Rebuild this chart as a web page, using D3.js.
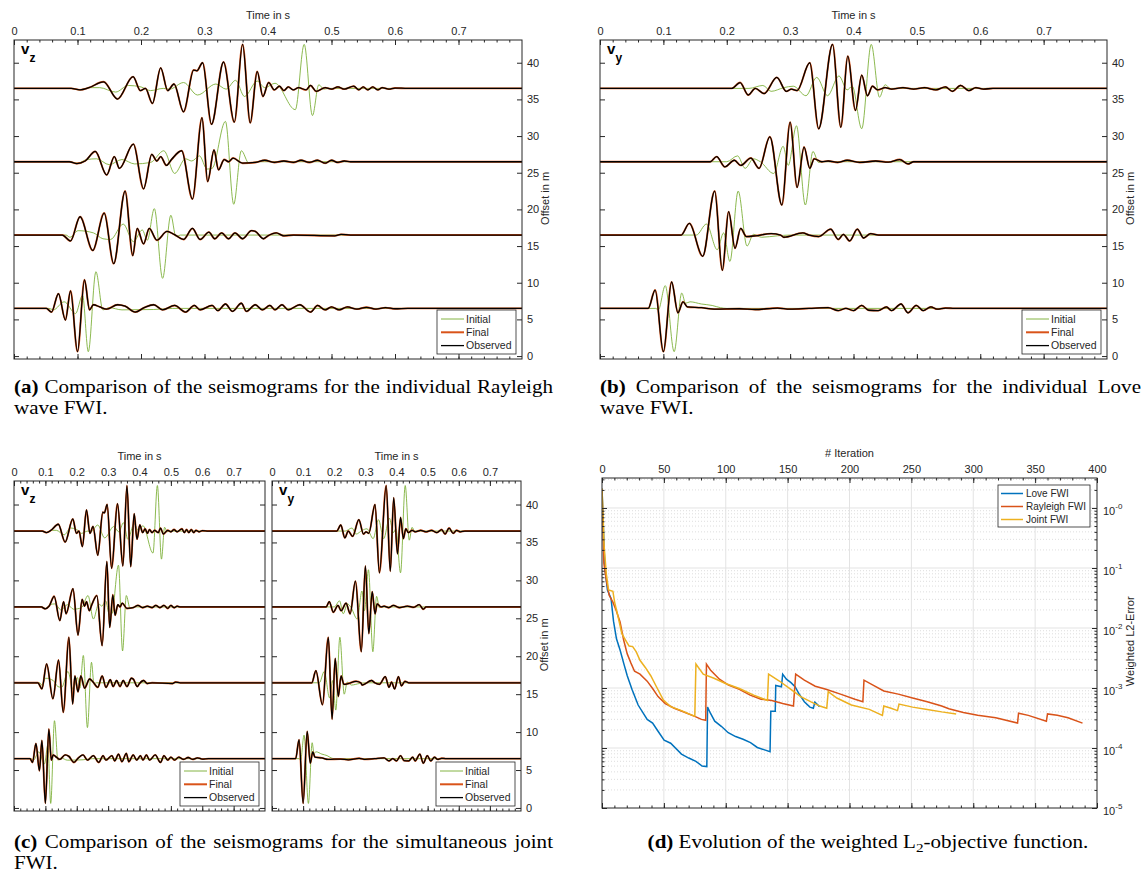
<!DOCTYPE html>
<html>
<head>
<meta charset="utf-8">
<script src="https://cdn.jsdelivr.net/npm/d3@7"></script>
<style>
body { margin: 0; background: #fff; }
svg text { font-family: "Liberation Sans", Arial, sans-serif; font-size: 11px; fill: #262626; }
svg text.cap { font-family: "Liberation Serif", "Times New Roman", serif; font-size: 18px; fill: #000; }
</style>
</head>
<body>
<svg id="fig" width="1147" height="878"></svg>
<script>
// ---- seismogram traces, [time in s, offset in m] (peaks/troughs)
const vzObserved = [
  [[0,36.5],[0.09,36.5],[0.104,36.3],[0.118,36.6],[0.141,37.4],[0.163,35.05],[0.1875,38.1],[0.199,36.2],[0.207,36.5],[0.218,34.45],[0.231,39.3],[0.242,36.2],[0.252,37.1],[0.267,33.3],[0.283,39.0],[0.288,38.9],[0.297,40.0],[0.311,31.6],[0.33,40.1],[0.347,31.9],[0.36,42.5],[0.372,31.8],[0.383,38.8],[0.392,35.4],[0.401,37.3],[0.41,36.3],[0.418,36.8],[0.425,36.2],[0.432,36.7],[0.44,36.3],[0.448,36.6],[0.46,36.3],[0.467,36.9],[0.476,36.1],[0.49,36.6],[0.5,36.4],[0.51,36.7],[0.52,36.4],[0.535,36.8],[0.543,36.3],[0.55,36.7],[0.557,36.3],[0.565,36.7],[0.573,36.3],[0.58,36.6],[0.59,36.4],[0.6,36.55],[0.62,36.5],[0.8,36.5]],
  [[0,26.5],[0.087,26.5],[0.099,26.25],[0.112,26.6],[0.128,27.9],[0.146,24.7],[0.158,27.2],[0.166,25.6],[0.188,28.9],[0.204,22.8],[0.217,27.5],[0.225,26.6],[0.231,27.2],[0.24,26.0],[0.248,26.8],[0.264,28.0],[0.281,21.4],[0.296,32.5],[0.305,23.8],[0.315,28.1],[0.322,25.4],[0.331,26.8],[0.338,26.5],[0.345,27.0],[0.36,26.3],[0.38,26.4],[0.395,26.7],[0.41,26.4],[0.425,26.6],[0.44,26.4],[0.452,26.7],[0.465,26.4],[0.478,26.7],[0.49,26.3],[0.5,26.7],[0.51,26.4],[0.52,26.6],[0.53,26.5],[0.8,26.5]],
  [[0,16.5],[0.076,16.5],[0.089,15.7],[0.104,19.0],[0.124,14.4],[0.142,19.5],[0.157,12.6],[0.175,22.5],[0.187,13.7],[0.194,17.4],[0.204,15.3],[0.213,17.4],[0.225,15.8],[0.241,17.0],[0.252,16.6],[0.267,15.9],[0.281,17.4],[0.293,15.9],[0.307,16.9],[0.316,16.0],[0.327,16.8],[0.338,16.0],[0.348,16.8],[0.36,16.0],[0.374,17.1],[0.38,17.0],[0.393,16.0],[0.4,16.4],[0.413,16.8],[0.425,16.4],[0.44,16.5],[0.505,16.4],[0.515,16.6],[0.53,16.5],[0.8,16.5]],
  [[0,6.5],[0.051,6.5],[0.059,6.0],[0.07,8.5],[0.081,4.9],[0.089,8.9],[0.1,0.6],[0.111,10.4],[0.119,6.3],[0.125,7.0],[0.135,6.7],[0.146,6.4],[0.163,7.0],[0.175,6.8],[0.191,6.0],[0.205,6.6],[0.22,7.0],[0.234,6.3],[0.253,6.9],[0.27,6.0],[0.284,6.9],[0.293,6.3],[0.312,6.9],[0.321,6.2],[0.333,7.1],[0.344,6.1],[0.358,7.2],[0.366,6.1],[0.38,7.0],[0.391,6.3],[0.403,6.9],[0.411,6.3],[0.422,7.0],[0.432,6.3],[0.45,7.0],[0.467,6.0],[0.478,6.9],[0.49,6.3],[0.5,6.7],[0.512,6.3],[0.525,6.7],[0.54,6.4],[0.555,6.65],[0.57,6.4],[0.585,6.6],[0.6,6.45],[0.62,6.5],[0.8,6.5]]
];
const vzInitial = [
  [[0,36.5],[0.09,36.5],[0.102,36.3],[0.12,36.6],[0.135,36.6],[0.16,36.0],[0.18,36.9],[0.2,36.7],[0.215,36.2],[0.235,36.5],[0.245,36.4],[0.267,37.3],[0.289,35.6],[0.318,37.1],[0.334,36.4],[0.349,37.6],[0.363,35.4],[0.383,37.5],[0.395,36.6],[0.411,37.2],[0.443,33.6],[0.457,42.5],[0.47,32.8],[0.48,37.0],[0.488,36.4],[0.495,36.5],[0.8,36.5]],
  [[0,26.5],[0.087,26.5],[0.1,26.3],[0.115,26.8],[0.13,26.9],[0.15,26.1],[0.17,26.8],[0.19,26.2],[0.215,26.4],[0.236,28.0],[0.253,24.9],[0.27,26.9],[0.28,26.6],[0.292,27.3],[0.304,25.5],[0.312,25.6],[0.333,32.0],[0.346,20.7],[0.358,28.0],[0.37,26.3],[0.383,26.5],[0.8,26.5]],
  [[0,16.5],[0.082,16.5],[0.088,16.2],[0.101,17.1],[0.125,16.8],[0.14,16.0],[0.152,15.9],[0.172,18.0],[0.188,15.6],[0.202,17.2],[0.21,15.8],[0.221,20.1],[0.234,10.6],[0.247,19.2],[0.255,16.3],[0.262,16.5],[0.8,16.5]],
  [[0,6.5],[0.055,6.5],[0.062,6.3],[0.079,7.4],[0.097,5.8],[0.108,8.3],[0.117,0.6],[0.129,11.5],[0.14,6.3],[0.15,6.6],[0.17,6.3],[0.22,6.35],[0.25,6.5],[0.8,6.5]]
];
const vyObserved = [
  [[0,36.5],[0.208,36.5],[0.221,37.3],[0.234,35.6],[0.245,36.5],[0.259,35.8],[0.279,38.0],[0.294,36.1],[0.302,36.4],[0.311,36.2],[0.331,40.0],[0.345,31.0],[0.367,42.5],[0.38,31.2],[0.391,40.9],[0.403,33.5],[0.413,38.3],[0.422,35.5],[0.43,36.8],[0.438,36.3],[0.45,36.6],[0.46,36.4],[0.478,36.6],[0.495,36.4],[0.512,36.6],[0.53,36.3],[0.545,36.7],[0.556,36.1],[0.569,36.9],[0.582,36.2],[0.593,36.6],[0.605,36.4],[0.62,36.5],[0.8,36.5]],
  [[0,26.5],[0.174,26.5],[0.184,27.2],[0.197,25.8],[0.212,26.7],[0.222,26.0],[0.238,27.0],[0.251,25.6],[0.268,29.9],[0.287,20.6],[0.3,31.9],[0.311,23.0],[0.322,28.5],[0.331,25.6],[0.338,26.9],[0.35,26.5],[0.36,26.6],[0.375,26.4],[0.39,26.7],[0.41,26.4],[0.435,26.6],[0.455,26.45],[0.473,26.8],[0.486,26.2],[0.495,26.5],[0.8,26.5]],
  [[0,16.5],[0.128,16.5],[0.141,18.1],[0.162,13.6],[0.181,22.5],[0.193,11.7],[0.203,19.7],[0.213,14.7],[0.222,17.4],[0.231,16.3],[0.245,16.4],[0.27,16.7],[0.285,16.5],[0.29,16.2],[0.32,16.8],[0.33,16.5],[0.345,16.3],[0.364,17.3],[0.376,15.9],[0.384,16.6],[0.394,15.7],[0.406,17.3],[0.416,16.1],[0.427,16.7],[0.44,16.5],[0.8,16.5]],
  [[0,6.5],[0.076,6.5],[0.087,9.0],[0.1,0.6],[0.113,10.1],[0.123,5.9],[0.131,7.4],[0.138,6.7],[0.16,6.6],[0.18,6.4],[0.22,6.45],[0.245,6.35],[0.28,6.55],[0.3,6.4],[0.33,6.5],[0.36,6.6],[0.376,6.2],[0.388,6.5],[0.4,6.2],[0.413,6.9],[0.424,6.25],[0.439,6.2],[0.452,6.7],[0.46,6.2],[0.475,7.1],[0.486,5.9],[0.499,6.9],[0.51,6.2],[0.522,6.7],[0.532,6.4],[0.545,6.55],[0.56,6.5],[0.8,6.5]]
];
const vyInitial = [
  [[0,36.5],[0.235,36.5],[0.257,36.9],[0.27,36.1],[0.29,36.6],[0.305,36.8],[0.325,35.5],[0.342,38.0],[0.359,35.5],[0.377,38.2],[0.39,36.3],[0.398,36.8],[0.413,31.0],[0.428,42.5],[0.441,35.3],[0.45,37.0],[0.458,36.5],[0.8,36.5]],
  [[0,26.5],[0.2,26.5],[0.217,27.3],[0.229,25.6],[0.242,26.9],[0.253,26.5],[0.274,24.9],[0.289,28.6],[0.297,26.0],[0.31,31.4],[0.324,20.6],[0.336,27.9],[0.345,26.4],[0.352,26.5],[0.8,26.5]],
  [[0,16.5],[0.152,16.5],[0.168,18.0],[0.185,14.5],[0.195,16.8],[0.205,12.9],[0.218,22.5],[0.232,15.0],[0.242,16.6],[0.255,16.2],[0.28,16.4],[0.3,16.5],[0.8,16.5]],
  [[0,6.5],[0.088,6.5],[0.092,6.3],[0.103,9.6],[0.117,0.6],[0.129,8.6],[0.135,7.2],[0.142,7.4],[0.16,7.1],[0.177,6.9],[0.19,6.6],[0.2,6.5],[0.8,6.5]]
];
// the final models fit the observed data (curves coincide in the figure)
const vzFinal = vzObserved;
const vyFinal = vyObserved;
const vzJointFinal = vzObserved;
const vyJointFinal = vyObserved;

const timeTicks = [0, 0.1, 0.2, 0.3, 0.4, 0.5, 0.6, 0.7];
const offsetTicks = [0, 5, 10, 15, 20, 25, 30, 35, 40];
const seismoLegend = ["Initial", "Final", "Observed"];

// ---- misfit evolution, [iteration, weighted L2 error]
const loveFWI = [[0,2.1],[2.3,0.10],[4.4,0.043],[7.3,0.031],[9.3,0.013],[11.7,0.0066],[14.6,0.0043],[17.5,0.0026],[20.4,0.0016],[24.2,0.00095],[29.2,0.00052],[36.5,0.0003],[40.9,0.00026],[45.3,0.00019],[50.2,0.000135],[55.5,0.00012],[64.2,0.000079],[70.1,0.000068],[75.9,0.00006],[80.9,0.00005],[84.7,0.000049],[85.3,0.00048],[87.6,0.00038],[91.1,0.00028],[96.4,0.00023],[102,0.00018],[108,0.000155],[114,0.00014],[120,0.000123],[125.5,0.000102],[131.4,0.000093],[135.8,0.000087],[136.4,0.00041],[140,0.00041],[140.4,0.0011],[145,0.00105],[146,0.0017],[149,0.0014],[152.7,0.00123],[156,0.00105],[159,0.00081],[163.5,0.00059],[168,0.00048],[170.8,0.00046],[172,0.00058],[175.8,0.00049]];
const rayleighFWI = [[0,2.1],[1.5,0.12],[3.5,0.062],[5.8,0.035],[8.8,0.027],[11.7,0.019],[14.6,0.0126],[17.5,0.0063],[20.4,0.0037],[23.4,0.0026],[26.3,0.0019],[30.7,0.0017],[36.5,0.0013],[40.9,0.00098],[45.3,0.00072],[51.1,0.00055],[58.4,0.00046],[67.2,0.00039],[75.9,0.00033],[80.3,0.0003],[83.8,0.00029],[84.4,0.0025],[87.6,0.002],[94.9,0.0014],[102.2,0.00112],[111,0.00095],[119.7,0.00076],[128.5,0.00065],[137.2,0.00062],[146,0.00055],[154.7,0.0005],[156.5,0.0017],[163.5,0.00135],[172.3,0.00107],[181,0.00095],[192.7,0.00079],[204.4,0.00065],[210.8,0.00059],[211.7,0.00135],[219,0.00112],[227.7,0.00089],[239.4,0.00079],[251,0.00068],[262.8,0.00059],[274.5,0.0005],[280.3,0.00045],[292,0.00039],[303.6,0.00035],[318.2,0.00032],[335.8,0.00026],[336.6,0.00038],[344.5,0.00035],[359.1,0.00028],[360,0.00037],[367.9,0.00035],[376.6,0.00032],[388.3,0.00026]];
const jointFWI = [[0,2.1],[1.8,0.22],[3.5,0.079],[5.3,0.043],[8.8,0.041],[10.2,0.027],[13.1,0.015],[16,0.0081],[19,0.0063],[21.9,0.005],[24.8,0.0049],[27.7,0.004],[30.7,0.0029],[35,0.0022],[39.4,0.0016],[43.8,0.00107],[49.6,0.00063],[55.5,0.00049],[64.2,0.00042],[70.1,0.00037],[75,0.00034],[75.9,0.0025],[81.8,0.0017],[90.5,0.00145],[99.3,0.0012],[111,0.00098],[122.6,0.00076],[133.7,0.00062],[134.6,0.0017],[143,0.00132],[151.8,0.00098],[160.6,0.00072],[169.3,0.00058],[176,0.0005],[181.6,0.00046],[182.8,0.00087],[189.8,0.00068],[201.5,0.00052],[216,0.00044],[226.6,0.00035],[227.7,0.0005],[233.6,0.00046],[238.8,0.00042],[240,0.00054],[251,0.00048],[262.8,0.00044],[274.5,0.0004],[286.2,0.00037]];
const iterTicks = [0, 50, 100, 150, 200, 250, 300, 350, 400];
const errDecades = [0, -1, -2, -3, -4, -5];
const lossLegend = ["Love FWI", "Rayleigh FWI", "Joint FWI"];

const svg = d3.select("#fig");
const AX = "#262626";
const GREEN = "#77AC30", ORANGE = "#D95319", BLACK = "#000000";
let clipId = 0;

function addClip(x0, y0, w, h) {
    const id = "clip" + (clipId++);
    svg.append("clipPath").attr("id", id)
        .append("rect").attr("x", x0).attr("y", y0).attr("width", w).attr("height", h);
    return "url(#" + id + ")";
}

// one seismogram panel
function seismo(b, comp, observed, initial, final, opt) {
    const x = d3.scaleLinear().domain([0, 0.8]).range([b.x0, b.x1]);
    const y = d3.scaleLinear().domain([-0.4, 43.1]).range([b.y1, b.y0]);
    const g = svg.append("g");

    const line = d3.line().x(d => x(d[0])).y(d => y(d[1])).curve(d3.curveMonotoneX);
    const plot = g.append("g").attr("clip-path", addClip(b.x0, b.y0, b.x1 - b.x0, b.y1 - b.y0));
    plot.selectAll(".init").data(initial).join("path")
        .attr("d", line).attr("fill", "none").attr("stroke", GREEN).attr("stroke-width", 0.85);
    plot.selectAll(".fin").data(final).join("path")
        .attr("d", line).attr("fill", "none").attr("stroke", ORANGE).attr("stroke-width", 1.9);
    plot.selectAll(".obs").data(observed).join("path")
        .attr("d", line).attr("fill", "none").attr("stroke", BLACK).attr("stroke-width", 1.3);

    const minors = d3.range(0, 0.8, 0.02);
    const fmt = d3.format(".1~f");
    g.append("g").attr("color", AX).attr("transform", `translate(0,${b.y0})`)
        .call(d3.axisTop(x).tickValues(minors).tickSize(-2.5).tickFormat(""));
    g.append("g").attr("color", AX).attr("transform", `translate(0,${b.y1})`)
        .call(d3.axisBottom(x).tickValues(minors).tickSize(-2.5).tickFormat(""));
    g.append("g").attr("color", AX).attr("transform", `translate(0,${b.y0})`)
        .call(d3.axisTop(x).tickValues(timeTicks).tickSize(-5).tickPadding(5).tickFormat(fmt));
    g.append("g").attr("color", AX).attr("transform", `translate(0,${b.y1})`)
        .call(d3.axisBottom(x).tickValues(timeTicks).tickSize(-5).tickFormat(""));
    g.append("g").attr("color", AX).attr("transform", `translate(${b.x0},0)`)
        .call(d3.axisLeft(y).tickValues(offsetTicks).tickSize(-5).tickFormat(""));
    g.append("g").attr("color", AX).attr("transform", `translate(${b.x1},0)`)
        .call(d3.axisRight(y).tickValues(offsetTicks).tickSize(-5).tickPadding(5)
            .tickFormat(opt.yLabels ? d3.format("d") : ""));
    g.selectAll(".domain").remove();
    g.append("rect").attr("x", b.x0).attr("y", b.y0)
        .attr("width", b.x1 - b.x0).attr("height", b.y1 - b.y0)
        .attr("fill", "none").attr("stroke", AX).attr("stroke-width", 1);

    g.append("text").attr("x", x(0.4)).attr("y", b.y0 - 21).attr("text-anchor", "middle").text("Time in s");
    if (opt.yLabels) {
        g.append("text").attr("transform", `translate(${b.x1 + 27},${y(21.5)}) rotate(-90)`)
            .attr("text-anchor", "middle").text("Offset in m");
    }
    // component label
    g.append("text").attr("x", b.x0 + 7).attr("y", b.y0 + 13.5)
        .style("font-weight", "bold").style("font-size", "15px").style("fill", "#000").text("v");
    g.append("text").attr("x", b.x0 + 15.5).attr("y", b.y0 + 21.5)
        .style("font-weight", "bold").style("font-size", "12px").style("fill", "#000").text(comp);

    // legend
    const lg = g.append("g").attr("transform", `translate(${b.x1 - 6 - opt.lw},${b.y1 - 49})`);
    lg.append("rect").attr("width", opt.lw).attr("height", 44)
        .attr("fill", "#fff").attr("stroke", AX).attr("stroke-width", 0.8);
    const cols = [GREEN, ORANGE, BLACK];
    const widths = [0.9, 2.0, 1.3];
    seismoLegend.forEach((name, i) => {
        const yy = 9 + i * 13.3;
        lg.append("line").attr("x1", 4).attr("x2", 27).attr("y1", yy).attr("y2", yy)
            .attr("stroke", cols[i]).attr("stroke-width", widths[i]);
        lg.append("text").attr("x", 29).attr("y", yy + 3.8).style("font-size", "10.5px").text(name);
    });
}

seismo({x0: 14, x1: 522, y0: 40, y1: 359}, "z", vzObserved, vzInitial, vzFinal, {yLabels: true, lw: 79});
seismo({x0: 600, x1: 1107, y0: 40, y1: 359}, "y", vyObserved, vyInitial, vyFinal, {yLabels: true, lw: 79});
seismo({x0: 14, x1: 265, y0: 481, y1: 811}, "z", vzObserved, vzInitial, vzJointFinal, {yLabels: false, lw: 79});
seismo({x0: 272, x1: 521, y0: 481, y1: 811}, "y", vyObserved, vyInitial, vyJointFinal, {yLabels: true, lw: 79});

// ---- panel (d): misfit evolution
(function() {
    const b = {x0: 602, x1: 1097, y0: 478, y1: 808};
    const x = d3.scaleLinear().domain([0, 400]).range([b.x0, b.x1]);
    const y = d3.scaleLog().domain([1e-5, 3.16]).range([b.y1, b.y0]);
    const g = svg.append("g");

    // grid
    const minorVals = [];
    errDecades.forEach(e => {
        for (let k = 2; k <= 9; k++) {
            const v = k * Math.pow(10, e);
            if (v < 3.16 && e <= 0) minorVals.push(v);
        }
    });
    g.selectAll(".mg").data(minorVals).join("line")
        .attr("x1", b.x0).attr("x2", b.x1).attr("y1", d => y(d)).attr("y2", d => y(d))
        .attr("stroke", "#cfcfcf").attr("stroke-width", 0.7).attr("stroke-dasharray", "1,2");
    g.selectAll(".gy").data(errDecades.slice(0, 5)).join("line")
        .attr("x1", b.x0).attr("x2", b.x1).attr("y1", d => y(Math.pow(10, d))).attr("y2", d => y(Math.pow(10, d)))
        .attr("stroke", "#e3e3e3").attr("stroke-width", 1);
    g.selectAll(".gx").data(iterTicks.slice(1, -1)).join("line")
        .attr("x1", d => x(d)).attr("x2", d => x(d)).attr("y1", b.y0).attr("y2", b.y1)
        .attr("stroke", "#e3e3e3").attr("stroke-width", 1);

    const line = d3.line().x(d => x(d[0])).y(d => y(d[1]));
    const plot = g.append("g").attr("clip-path", addClip(b.x0, b.y0, b.x1 - b.x0, b.y1 - b.y0));
    const series = [[loveFWI, "#0072BD"], [rayleighFWI, "#D95319"], [jointFWI, "#EDB120"]];
    series.forEach(([data, col]) => {
        plot.append("path").datum(data).attr("d", line)
            .attr("fill", "none").attr("stroke", col).attr("stroke-width", 1.5);
    });

    // axes
    const xmin = d3.range(0, 401, 10);
    g.append("g").attr("color", AX).attr("transform", `translate(0,${b.y0})`)
        .call(d3.axisTop(x).tickValues(xmin).tickSize(-2.5).tickFormat(""));
    g.append("g").attr("color", AX).attr("transform", `translate(0,${b.y1})`)
        .call(d3.axisBottom(x).tickValues(xmin).tickSize(-2.5).tickFormat(""));
    g.append("g").attr("color", AX).attr("transform", `translate(0,${b.y0})`)
        .call(d3.axisTop(x).tickValues(iterTicks).tickSize(-5).tickPadding(5).tickFormat(d3.format("d")));
    g.append("g").attr("color", AX).attr("transform", `translate(0,${b.y1})`)
        .call(d3.axisBottom(x).tickValues(iterTicks).tickSize(-5).tickFormat(""));
    const decVals = errDecades.map(e => Math.pow(10, e));
    g.append("g").attr("color", AX).attr("transform", `translate(${b.x0},0)`)
        .call(d3.axisLeft(y).tickValues(minorVals).tickSize(-2.5).tickFormat(""));
    g.append("g").attr("color", AX).attr("transform", `translate(${b.x1},0)`)
        .call(d3.axisRight(y).tickValues(minorVals).tickSize(-2.5).tickFormat(""));
    g.append("g").attr("color", AX).attr("transform", `translate(${b.x0},0)`)
        .call(d3.axisLeft(y).tickValues(decVals).tickSize(-5).tickFormat(""));
    g.append("g").attr("color", AX).attr("transform", `translate(${b.x1},0)`)
        .call(d3.axisRight(y).tickValues(decVals).tickSize(-5).tickFormat(""));
    g.selectAll(".domain").remove();
    g.append("rect").attr("x", b.x0).attr("y", b.y0)
        .attr("width", b.x1 - b.x0).attr("height", b.y1 - b.y0)
        .attr("fill", "none").attr("stroke", AX).attr("stroke-width", 1);

    errDecades.forEach(e => {
        const t = g.append("text").attr("x", b.x1 + 6).attr("y", y(Math.pow(10, e)) + 7);
        t.append("tspan").text("10");
        t.append("tspan").attr("dy", -6).style("font-size", "8px").text("-" + Math.abs(e));
    });

    g.append("text").attr("x", x(200)).attr("y", b.y0 - 21).attr("text-anchor", "middle").text("# Iteration");
    g.append("text").attr("transform", `translate(${b.x1 + 37},${y(0.006)}) rotate(-90)`)
        .attr("text-anchor", "middle").text("Weighted L2-Error");

    const lg = g.append("g").attr("transform", `translate(998,485)`);
    lg.append("rect").attr("width", 92).attr("height", 42)
        .attr("fill", "#fff").attr("stroke", AX).attr("stroke-width", 0.8);
    lossLegend.forEach((name, i) => {
        const yy = 8.5 + i * 13;
        lg.append("line").attr("x1", 3).attr("x2", 25).attr("y1", yy).attr("y2", yy)
            .attr("stroke", series[i][1]).attr("stroke-width", 1.5);
        lg.append("text").attr("x", 28).attr("y", yy + 3.6).style("font-size", "10px").text(name);
    });
})();

// ---- captions (justified like the LaTeX source, glyphs slightly widened)
const CAP_SX = 1.17;
function caption(x0, x1, yb, label, body, justify) {
    const t = svg.append("text").attr("class", "cap").attr("x", x0).attr("y", yb)
        .attr("transform", `translate(${x0},0) scale(${CAP_SX},1) translate(${-x0},0)`);
    t.append("tspan").style("font-weight", "bold").text(label);
    t.append("tspan").text(body);
    if (justify) {
        const w = t.node().getComputedTextLength();
        const n = (label + body).split(" ").length - 1;
        t.style("word-spacing", Math.max(0, ((x1 - x0) / CAP_SX - w) / n) + "px");
    }
    return t;
}
caption(14, 553, 393, "(a)", " Comparison of the seismograms for the individual Rayleigh", true);
caption(14, 553, 414, "", "wave FWI.", false);
caption(600, 1141, 393, "(b)", " Comparison of the seismograms for the individual Love", true);
caption(600, 1141, 414, "", "wave FWI.", false);
caption(14, 553, 848, "(c)", " Comparison of the seismograms for the simultaneous joint", true);
caption(14, 553, 869, "", "FWI.", false);
const dcap = svg.append("text").attr("class", "cap").attr("x", 868).attr("y", 848).attr("text-anchor", "middle")
    .attr("transform", `translate(868,0) scale(${CAP_SX},1) translate(-868,0)`);
dcap.append("tspan").style("font-weight", "bold").text("(d)");
dcap.append("tspan").text(" Evolution of the weighted L");
dcap.append("tspan").attr("dy", 4).style("font-size", "13px").text("2");
dcap.append("tspan").attr("dy", -4).text("-objective function.");
</script>
</body>
</html>
